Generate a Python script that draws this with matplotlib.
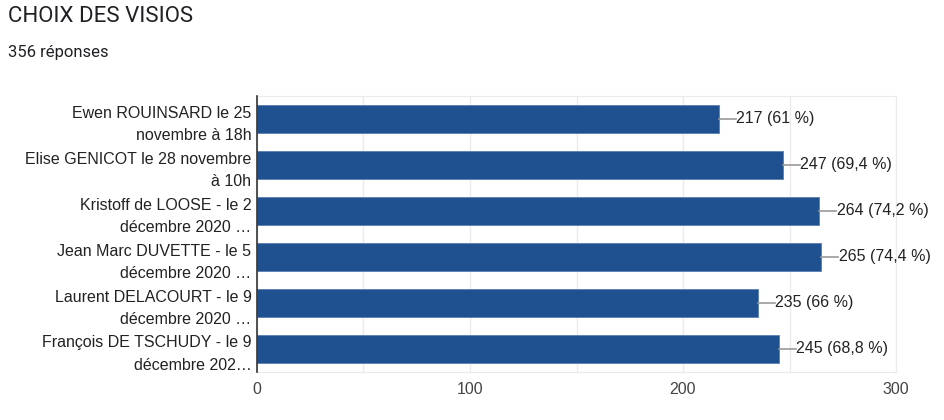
import matplotlib
matplotlib.use("Agg")
import matplotlib.pyplot as plt
from matplotlib.ticker import MultipleLocator

categories = [
    "Ewen ROUINSARD le 25\nnovembre à 18h",
    "Elise GENICOT le 28 novembre\nà 10h",
    "Kristoff de LOOSE - le 2\ndécembre 2020 …",
    "Jean Marc DUVETTE - le 5\ndécembre 2020 …",
    "Laurent DELACOURT - le 9\ndécembre 2020 …",
    "François DE TSCHUDY - le 9\ndécembre 202…",
]
values = [217, 247, 264, 265, 235, 245]
percents = ["61", "69,4", "74,2", "74,4", "66", "68,8"]
title = "CHOIX DES VISIOS"
subtitle = "356 réponses"
xticks = [0, 100, 200, 300]

W, H = 945, 420
fig = plt.figure(figsize=(W / 100, H / 100), dpi=100)
fig.patch.set_facecolor("white")

left, right, top, bottom = 257, 896, 96, 372
ax = fig.add_axes([left / W, 1 - bottom / H, (right - left) / W, (bottom - top) / H])

bar_color = "#1f5191"
y = list(range(len(values)))
ax.barh(y, values, height=0.61, color=bar_color, edgecolor="#5a7fb0", linewidth=0.6, zorder=3)
ax.set_ylim(len(values) - 0.5, -0.5)
ax.set_xlim(0, 300)

for i, (v, p) in enumerate(zip(values, percents)):
    ax.plot([v, v + 8], [i, i], color="#999999", lw=1.2, zorder=4, clip_on=False)
    ax.text(v + 8.1, i, f"{v} ({p} %)", va="center", ha="left", fontsize=11.5,
            family="Liberation Sans", color="#222222", zorder=5, clip_on=False)

ax.set_yticks(y)
ax.set_yticklabels(categories, fontsize=11.5, family="Liberation Sans", color="#222222",
                   linespacing=1.62)
ax.tick_params(axis="y", length=0, pad=4)
ax.set_xticks(xticks)
ax.set_xticklabels([str(t) for t in xticks], fontsize=11.5, family="Liberation Sans", color="#444444")
ax.tick_params(axis="x", which="both", length=0, pad=7)
ax.xaxis.set_minor_locator(MultipleLocator(50))
ax.grid(axis="x", which="both", color="#ebebeb", lw=1, zorder=0)
for s in ["top", "right", "bottom"]:
    ax.spines[s].set_color("#ebebeb")
ax.spines["left"].set_color("#333333")
ax.spines["left"].set_linewidth(1.2)
ax.spines["left"].set_zorder(6)

fig.text(8 / W, 1 - 16 / H, title, fontsize=16, family="Roboto", color="#202124", va="center", ha="left")
fig.text(8 / W, 1 - 52 / H, subtitle, fontsize=12, family="Roboto", color="#202124", va="center", ha="left")

fig.savefig("out.png", dpi=100)
